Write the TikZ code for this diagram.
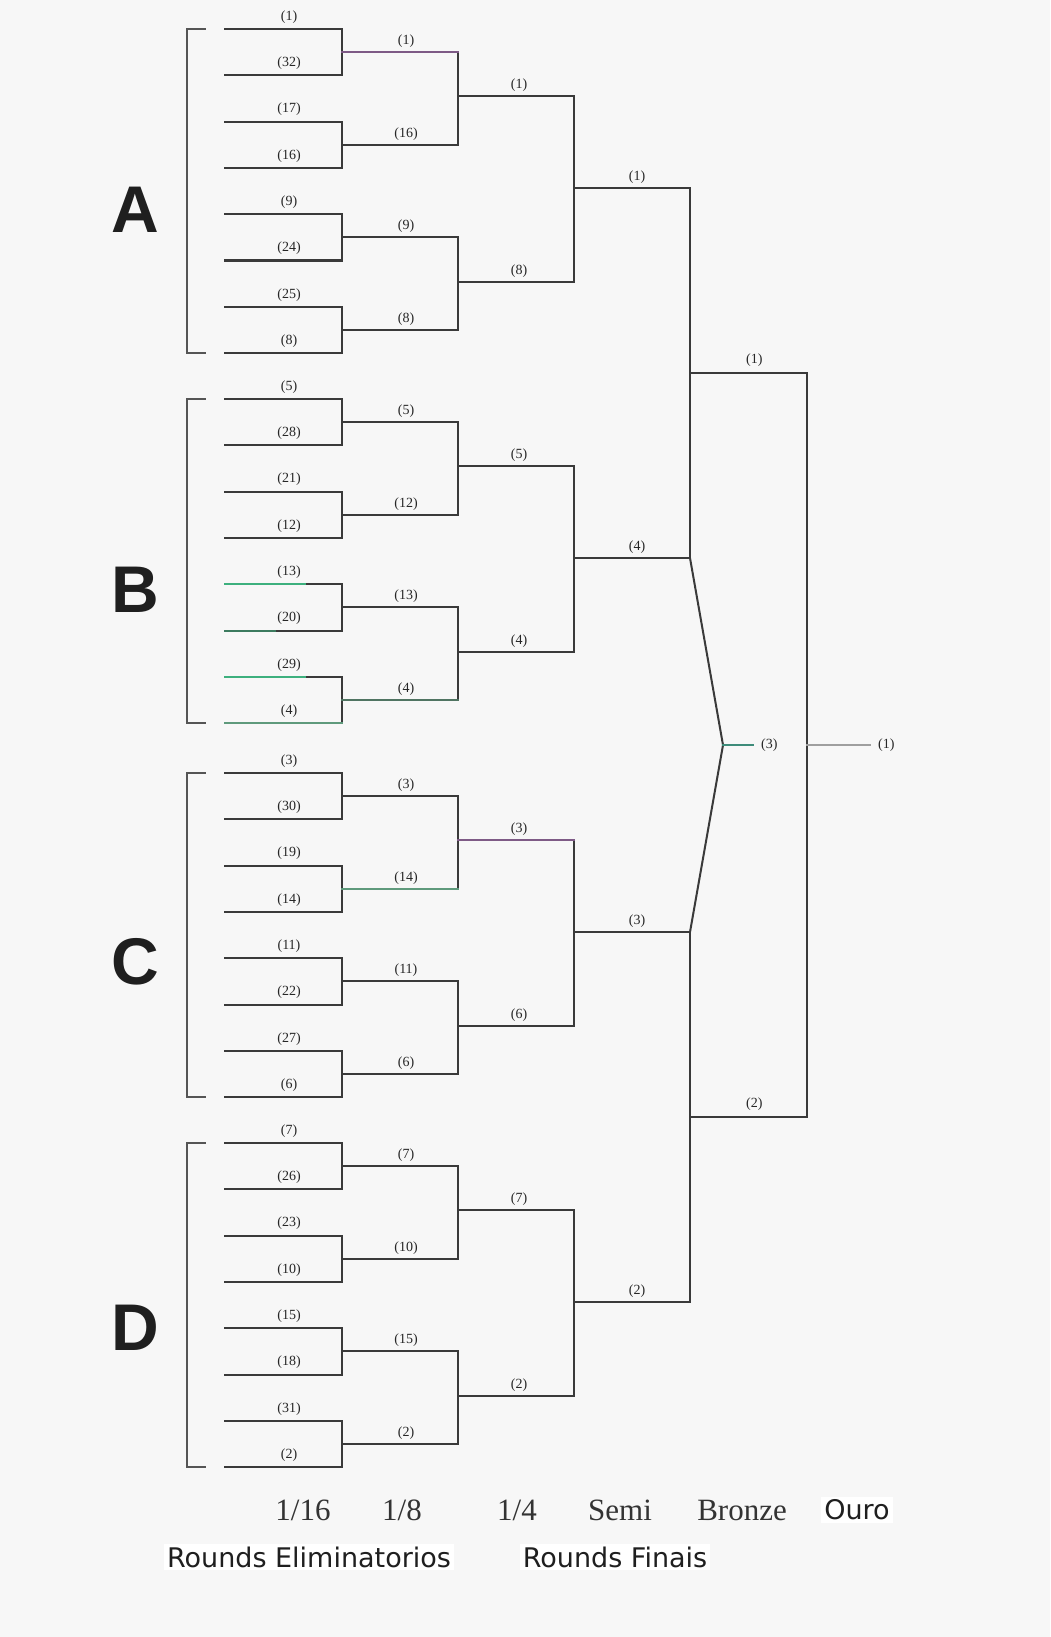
\documentclass[tikz,border=0pt]{standalone}
\usepackage{fontspec}
\setmainfont{Liberation Serif}
\newfontfamily\letterfont{Liberation Sans}
\newfontfamily\stagefont{DejaVu Sans}
\usepackage{tikz}
\usetikzlibrary{calc}

\definecolor{linegray}{HTML}{3A3A3A}
\definecolor{bracketgray}{HTML}{555555}
\definecolor{paper}{HTML}{F7F7F7}
\definecolor{lilac}{HTML}{7E5A86}
\definecolor{mint}{HTML}{3DB07E}
\definecolor{sage}{HTML}{5F9A7C}
\definecolor{bronzeteal}{HTML}{3E8C7A}

\begin{document}
\begin{tikzpicture}[
		x=1pt, y=-1pt,
		bline/.style={draw=linegray, line width=2pt, line cap=rect},
		seed/.style={font=\fontsize{14}{14}\selectfont, inner sep=0pt, text=black!85},
		letter/.style={font=\letterfont\bfseries\fontsize{66}{66}\selectfont, text=black!88},
		roundname/.style={font=\fontsize{31}{31}\selectfont, text=black!80},
		stage/.style={font=\stagefont\fontsize{27}{27}\selectfont, fill=white, inner sep=3pt, text=black!88}
		]
		
		\fill[paper] (0,0) rectangle (1050,1637);
		
		\foreach \grp/\ytop/\ylet/\rxvi/\rviii/\riv/\rii in {
			A/29/210/{1,32,17,16,9,24,25,8}/{1,16,9,8}/{1,8}/1,
			B/399/590/{5,28,21,12,13,20,29,4}/{5,12,13,4}/{5,4}/4,
			C/773/962/{3,30,19,14,11,22,27,6}/{3,14,11,6}/{3,6}/3,
			D/1143/1328/{7,26,23,10,15,18,31,2}/{7,10,15,2}/{7,2}/2}{
			
			\node[letter] (\grp) at (135,\ylet) {\grp};
			
			\coordinate (\grp-top) at (205,\ytop);
			\coordinate (\grp-bot) at (205,{\ytop+324.1});
			\draw[bline, draw=bracketgray] (\grp-top) -- ++(-18,0) |- (\grp-bot);
			
			\foreach \n [count=\i from 0] in \rxvi {
				\coordinate (\grp-a\i) at (225,{\ytop+46.3*\i});
				\coordinate (\grp-b\i) at (342,{\ytop+46.3*\i});
				\node[seed] (\grp-sa\i) at (289,{\ytop+46.3*\i-12}) {(\n)};
				\draw[bline] (\grp-a\i) -- (\grp-b\i);
			}
			
			\foreach \n [count=\j from 0] in \rviii {
				\pgfmathtruncatemacro\ja{2*\j}
				\pgfmathtruncatemacro\jb{2*\j+1}
				\coordinate (\grp-c\j) at (342,{\ytop+46.3*(2*\j+0.5)});
				\coordinate (\grp-d\j) at (458,{\ytop+46.3*(2*\j+0.5)});
				\node[seed] (\grp-sb\j) at (406,{\ytop+46.3*(2*\j+0.5)-11}) {(\n)};
				\draw[bline] (\grp-b\ja) -- (\grp-b\jb);
				\draw[bline] (\grp-c\j) -- (\grp-d\j);
			}
			
			\foreach \n [count=\k from 0] in \riv {
				\pgfmathtruncatemacro\ka{2*\k}
				\pgfmathtruncatemacro\kb{2*\k+1}
				\coordinate (\grp-e\k) at (458,{\ytop+46.3*(4*\k+1.5)-2});
				\coordinate (\grp-f\k) at (574,{\ytop+46.3*(4*\k+1.5)-2});
				\node[seed] (\grp-sc\k) at (519,{\ytop+46.3*(4*\k+1.5)-13}) {(\n)};
				\draw[bline] (\grp-d\ka) -- (\grp-d\kb);
				\draw[bline] (\grp-e\k) -- (\grp-f\k);
			}
			
			\coordinate (\grp-g) at (574,{\ytop+46.3*3.5-3});
			\coordinate (\grp-h) at (690,{\ytop+46.3*3.5-3});
			\node[seed] (\grp-sd) at (637,{\ytop+46.3*3.5-14}) {(\rii)};
			\draw[bline] (\grp-f0) -- (\grp-f1);
			\draw[bline] (\grp-g) -- (\grp-h);
		}
		
		\draw[bline, draw=lilac] (A-c0) -- (A-d0);
		\draw[bline, draw=mint] (B-a4) -- ++(80,0);
		\draw[bline, draw=mint!55!linegray] (B-a5) -- ++(50,0);
		\draw[bline, draw=mint] (B-a6) -- ++(80,0);
		\draw[bline, draw=sage] (B-a7) -- (B-b7);
		\draw[bline, draw=sage!60!linegray] (B-c3) -- (B-d3);
		\draw[bline, draw=sage] (C-c1) -- (C-d1);
		\draw[bline, draw=lilac] (C-e0) -- (C-f0);
		
		\coordinate (ab-s) at ($(A-h)!.5!(B-h)$);
		\coordinate (ab-e) at ($(ab-s)+(117,0)$);
		\coordinate (cd-s) at ($(C-h)!.5!(D-h)$);
		\coordinate (cd-e) at ($(cd-s)+(117,0)$);
		\draw[bline] (A-h) -- (B-h);
		\draw[bline] (C-h) -- (D-h);
		\draw[bline] (ab-s) -- (ab-e);
		\draw[bline] (cd-s) -- (cd-e);
		\node[seed] (ab-lbl) at ($(ab-s)!.55!(ab-e)+(0,-13)$) {(1)};
		\node[seed] (cd-lbl) at ($(cd-s)!.55!(cd-e)+(0,-13)$) {(2)};
		
		\coordinate (br-s) at ($(B-h)!.5!(C-h)+(33,0)$);
		\coordinate (br-e) at ($(br-s)+(30,0)$);
		\draw[bline, line cap=butt] (B-h) -- (br-s) -- (C-h);
		\draw[bline, draw=bronzeteal] (br-s) -- (br-e);
		\node[seed, anchor=west] (br-lbl) at ($(br-e)+(8,0)$) {(3)};
		
		\coordinate (au-s) at ($(ab-e)!.5!(cd-e)$);
		\coordinate (au-e) at ($(au-s)+(63,0)$);
		\draw[bline] (ab-e) -- (cd-e);
		\draw[bline, draw=gray!75] (au-s) -- (au-e);
		\node[seed, anchor=west] (au-lbl) at ($(au-e)+(8,0)$) {(1)};
		
		\node[roundname] (r16) at (303,1510) {1/16};
		\node[roundname] (r8) at (402,1510) {1/8};
		\node[roundname] (r4) at (517,1510) {1/4};
		\node[roundname] (rsemi) at (620,1510) {Semi};
		\node[roundname] (rbronze) at (742,1510) {Bronze};
		\node[stage] (rouro) at (857,1510) {Ouro};
		\node[stage] (elim) at (309,1557) {Rounds Eliminatorios};
		\node[stage] (finais) at (615,1557) {Rounds Finais};
		
	\end{tikzpicture}
\end{document}
